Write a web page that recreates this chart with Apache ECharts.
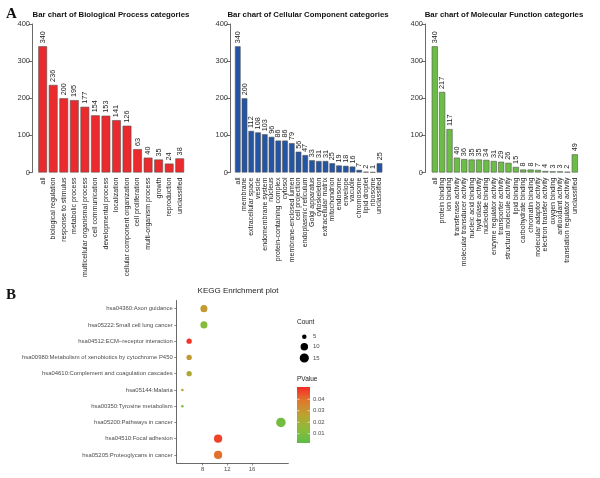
<!DOCTYPE html>
<html><head><meta charset="utf-8">
<script src="https://cdn.jsdelivr.net/npm/echarts@6/dist/echarts.min.js"></script>
<style>html,body{margin:0;padding:0;background:#fff}#c{width:600px;height:478px}</style>
</head><body><div id="c"></div>
<script>
const bpCategories = ['all','biological regulation','response to stimulus','metabolic process','multicellular organismal process','cell communication','developmental process','localization','cellular component organization','cell proliferation','multi-organism process','growth','reproduction','unclassified'];
const bpValues = [340,236,200,195,177,154,153,141,126,63,40,35,24,38];

const ccCategories = ['all','membrane','extracellular space','vesicle','endomembrane system','nucleus','protein-containing complex','cytosol','membrane-enclosed lumen','cell projection','endoplasmic reticulum','Golgi apparatus','cytoskeleton','extracellular matrix','mitochondrion','endosome','envelope','vacuole','chromosome','lipid droplet','ribosome','unclassified'];
const ccValues = [340,200,112,108,103,96,86,86,79,56,47,33,31,31,25,19,18,16,7,2,1,25];

const mfCategories = ['all','protein binding','ion binding','transferase activity','molecular transducer activity','nucleic acid binding','hydrolase activity','nucleotide binding','enzyme regulator activity','transporter activity','structural molecule activity','lipid binding','carbohydrate binding','chromatin binding','molecular adaptor activity','electron transfer activity','oxygen binding','antioxidant activity','translation regulator activity','unclassified'];
const mfValues = [340,217,117,40,36,35,35,34,31,29,26,15,8,8,7,4,3,3,2,49];

const barYTicks = [0,100,200,300,400];

const keggTerms = ['hsa04360:Axon guidance','hsa05222:Small cell lung cancer','hsa04512:ECM\u2212receptor interaction','hsa00980:Metabolism of xenobiotics by cytochrome P450','hsa04610:Complement and coagulation cascades','hsa05144:Malaria','hsa00350:Tyrosine metabolism','hsa05200:Pathways in cancer','hsa04510:Focal adhesion','hsa05205:Proteoglycans in cancer'];
const keggX = [8.2,8.2,5.8,5.8,5.8,4.7,4.7,20.7,10.5,10.5];
const keggPValue = [0.029,0.012,0.049,0.029,0.023,0.030,0.012,0.008,0.047,0.040];
const keggCount = [9,9,6,6,6,4,4,16,12,12];
const keggXTicks = [8,12,16];
const countLegend = [5,10,15];
const pLegendTicks = [0.01,0.02,0.03,0.04];

const FONT = 'Liberation Sans, Arial, sans-serif';
const pMin = 0.0019, pMax = 0.0507;
const cMin = 4, cMax = 16;
const pColors = ['#5cbd47','#8cbb39','#bba233','#df7a2c','#f52a27'];
function dotSize(c){ return 2.5 + 7*Math.sqrt(Math.max(0,(c-cMin))/(cMax-cMin)); }

const grids = [
  {left:37.4, top:24, width:147.6, height:148.5},
  {left:234.4, top:24, width:148.5, height:148.5},
  {left:431.1, top:24, width:147.4, height:148.5},
  {left:176.7, top:300.5, width:111.6, height:162.5}
];
const yOffsets = [5.4, 4.4, 6.1];

function barX(i, cats){
  return {type:'category', gridIndex:i, data:cats, axisLine:{show:false}, axisTick:{show:false},
    axisLabel:{interval:0, rotate:90, fontSize:7, margin:5, color:'#222', fontFamily:FONT}};
}
function barY(i){
  return {type:'value', gridIndex:i, min:0, max:400, interval:100, offset:yOffsets[i],
    axisLine:{show:true, lineStyle:{color:'#444', width:0.8}},
    axisTick:{show:true, length:3.5, lineStyle:{color:'#444', width:0.8}},
    axisLabel:{fontSize:7.5, margin:2, color:'#333', fontFamily:FONT},
    splitLine:{show:false}};
}
function barSeries(i, vals, color){
  return {type:'bar', xAxisIndex:i, yAxisIndex:i, data:vals, barCategoryGap:'16.7%',
    itemStyle:{color:color, borderColor:'#555', borderWidth:0.6},
    label:{show:true, position:'top', rotate:90, align:'left', verticalAlign:'middle', distance:3,
      fontSize:7.3, color:'#222', fontFamily:FONT},
    silent:true, animation:false};
}

const scatterData = keggTerms.map((t,i)=>[keggX[i], t, keggPValue[i], keggCount[i]]);

const barTop = 387, barBot = 443;
const graphics = [
  {type:'text', left:6, top:7, style:{text:'A', font:'bold 15px "Liberation Serif", serif', fill:'#111'}},
  {type:'text', left:6, top:288, style:{text:'B', font:'bold 15px "Liberation Serif", serif', fill:'#111'}},
  {type:'text', left:297, top:319, style:{text:'Count', font:'6.5px '+FONT, fill:'#222'}},
  {type:'text', left:297, top:376, style:{text:'PValue', font:'6.5px '+FONT, fill:'#222'}},
  {type:'rect', shape:{x:297, y:barTop, width:13, height:barBot-barTop},
    style:{fill:new echarts.graphic.LinearGradient(0,0,0,1, pColors.slice().reverse().map((c,i)=>({offset:i/(pColors.length-1), color:c})))}}
];
const legendY = [336.7,346.7,358];
countLegend.forEach((c,i)=>{
  graphics.push({type:'circle', shape:{cx:304.3, cy:legendY[i], r:dotSize(c)/2}, style:{fill:'#000'}});
  graphics.push({type:'text', x:313, y:legendY[i], style:{text:String(c), font:'6px '+FONT, fill:'#4d4d4d', verticalAlign:'middle'}});
});
pLegendTicks.forEach(p=>{
  const y = barBot - (p-pMin)/(pMax-pMin)*(barBot-barTop);
  graphics.push({type:'line', shape:{x1:297, y1:y, x2:299.5, y2:y}, style:{stroke:'#fff', lineWidth:0.6}, z:100});
  graphics.push({type:'line', shape:{x1:307.5, y1:y, x2:310, y2:y}, style:{stroke:'#fff', lineWidth:0.6}, z:100});
  graphics.push({type:'text', x:313, y:y, style:{text:p.toFixed(2), font:'6px '+FONT, fill:'#4d4d4d', verticalAlign:'middle'}});
});

const titleStyle = {fontSize:7.8, fontWeight:'bold', color:'#111', fontFamily:FONT};
const option = {
  animation:false,
  backgroundColor:'#fff',
  title:[
    {text:'Bar chart of Biological Process categories', left:111, top:11, textAlign:'center', padding:0, textStyle:titleStyle},
    {text:'Bar chart of Cellular Component categories', left:308, top:11, textAlign:'center', padding:0, textStyle:titleStyle},
    {text:'Bar chart of Molecular Function categories', left:504, top:11, textAlign:'center', padding:0, textStyle:titleStyle},
    {text:'KEGG Enrichment plot', left:238, top:287, textAlign:'center', padding:0,
      textStyle:{fontSize:8, fontWeight:'normal', color:'#222', fontFamily:FONT}}
  ],
  grid:grids,
  xAxis:[
    barX(0, bpCategories), barX(1, ccCategories), barX(2, mfCategories),
    {type:'value', gridIndex:3, min:3.78, max:21.9,
      axisLine:{show:true, lineStyle:{color:'#444', width:0.8}},
      axisTick:{show:true, length:2.5, customValues:keggXTicks, lineStyle:{color:'#444', width:0.6}},
      axisLabel:{customValues:keggXTicks, fontSize:6, margin:3, color:'#4d4d4d', fontFamily:FONT},
      splitLine:{show:false}}
  ],
  yAxis:[
    barY(0), barY(1), barY(2),
    {type:'category', gridIndex:3, data:keggTerms, inverse:true,
      axisLine:{show:true, lineStyle:{color:'#444', width:0.8}},
      axisTick:{show:true, length:2.5, alignWithLabel:true, lineStyle:{color:'#444', width:0.6}},
      axisLabel:{interval:0, fontSize:5.9, margin:4, color:'#4d4d4d', fontFamily:FONT},
      splitLine:{show:false}}
  ],
  visualMap:[{
    type:'continuous', show:false, seriesIndex:3, dimension:2, min:pMin, max:pMax,
    inRange:{color:pColors}
  }],
  series:[
    barSeries(0, bpValues, '#ea2a2c'),
    barSeries(1, ccValues, '#2455a4'),
    barSeries(2, mfValues, '#6bbd45'),
    {type:'scatter', xAxisIndex:3, yAxisIndex:3, data:scatterData,
      symbolSize:function(v){return dotSize(v[3]);}, itemStyle:{opacity:1}, silent:true}
  ],
  graphic:graphics
};
const chart = echarts.init(document.getElementById('c'), null, {renderer:'canvas'});
chart.setOption(option);
</script>
</body></html>
